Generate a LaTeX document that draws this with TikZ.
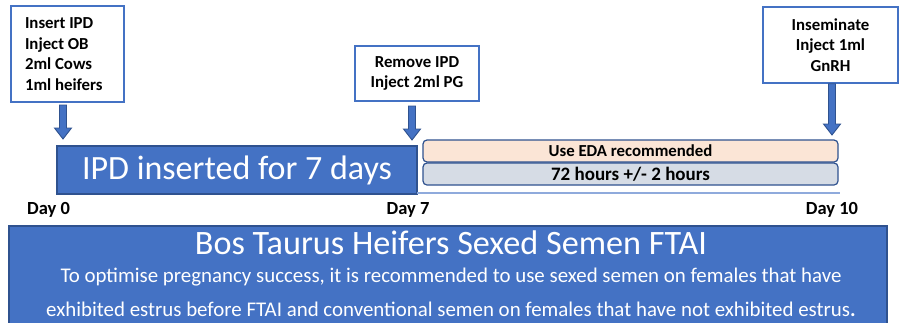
\documentclass[tikz,border=0pt]{standalone}
\usepackage{fontspec}
\setmainfont{Carlito}
\usetikzlibrary{calc}
\definecolor{ofblue}{HTML}{4472C4}
\definecolor{darkblue}{HTML}{2F528F}
\definecolor{peach}{HTML}{FBE5D6}
\definecolor{lgrey}{HTML}{D6DCE5}
\definecolor{lineblue}{HTML}{8FAADC}
\newcommand\blockarrow[2]{%
  \draw[arrowstyle] let \p1=(#1), \p2=(#2) in
    (\x1-3.5pt,\y1) -- (\x1+3.5pt,\y1) -- (\x1+3.5pt,\y2+11pt) -- (\x1+8.5pt,\y2+11pt)
    -- (\x2,\y2) -- (\x1-8.5pt,\y2+11pt) -- (\x1-3.5pt,\y2+11pt) -- cycle;}
\begin{document}
\begin{tikzpicture}[x=1pt,y=-1pt,
  infobox/.style={draw=ofblue,line width=1.3pt,fill=white,inner sep=0pt,
    font=\fontsize{16.8}{20.5}\selectfont\bfseries},
  arrowstyle/.style={draw=darkblue,line width=0.9pt,fill=ofblue},
  daylabel/.style={inner sep=0pt,font=\fontsize{18.5}{20}\selectfont\bfseries},
  phasebar/.style={draw=darkblue,line width=1.2pt,rounded corners=4pt,minimum width=415pt,
    minimum height=22pt,inner sep=0pt,font=\fontsize{16.8}{18}\selectfont\bfseries}]
\useasboundingbox (0,0) rectangle (901,322);

% bottom banner
\node[draw=darkblue,line width=1.5pt,fill=ofblue,minimum width=878pt,minimum height=104pt,
  inner sep=0pt] (banner) at (448,278) {};
\node[text=white,inner sep=0pt,font=\fontsize{34.2}{36}\selectfont] (title) at (451,243)
  {Bos Taurus Heifers Sexed Semen FTAI};
\node[text=white,inner sep=0pt,align=center,font=\fontsize{20.9}{34}\selectfont] (note) at (451,292)
  {To optimise pregnancy success, it is recommended to use sexed semen on females that have\\
   exhibited estrus before FTAI and conventional semen on females that have not exhibited estrus{\bfseries.}};

% event boxes
\node[infobox,minimum width=113pt,minimum height=96pt,text width=85pt,align=flush left] (b1) at (67.5,54)
  {Insert IPD\\Inject OB\\2ml Cows\\1ml heifers};
\node[infobox,minimum width=124pt,minimum height=55pt,align=center] (b2) at (417,73.5)
  {Remove IPD\\Inject 2ml PG};
\node[infobox,minimum width=135pt,minimum height=76pt,align=center] (b3) at (830.5,45)
  {Inseminate\\Inject 1ml\\GnRH};

% timeline bars
\node[draw=darkblue,line width=1.5pt,fill=ofblue,minimum width=360pt,minimum height=48pt,inner sep=0pt,
  text=white,font=\fontsize{34}{36}\selectfont] (ipd) at (237,170) {IPD inserted for 7 days};
\node[phasebar,fill=peach] (eda) at (630.5,151) {Use EDA recommended};
\node[phasebar,fill=lgrey,font=\fontsize{19}{20}\selectfont\bfseries] (hrs) at (630.5,174) {72 hours +/- 2 hours};
\coordinate (ls) at (417,193);
\coordinate (le) at (840,193);
\draw[lineblue,line width=1.5pt] (ls) -- (le);

% day labels
\node[daylabel] (d0) at (48.5,210) {Day 0};
\node[daylabel] (d7) at (408,210) {Day 7};
\node[daylabel] (d10) at (832,210) {Day 10};

% arrows
\coordinate (a1s) at (63,105);
\coordinate (a1e) at (63,139);
\coordinate (a2s) at (412,106);
\coordinate (a2e) at (412,140);
\coordinate (a3s) at (832,83.7);
\coordinate (a3e) at (832,135);
\blockarrow{a1s}{a1e}
\blockarrow{a2s}{a2e}
\blockarrow{a3s}{a3e}
\end{tikzpicture}
\end{document}
